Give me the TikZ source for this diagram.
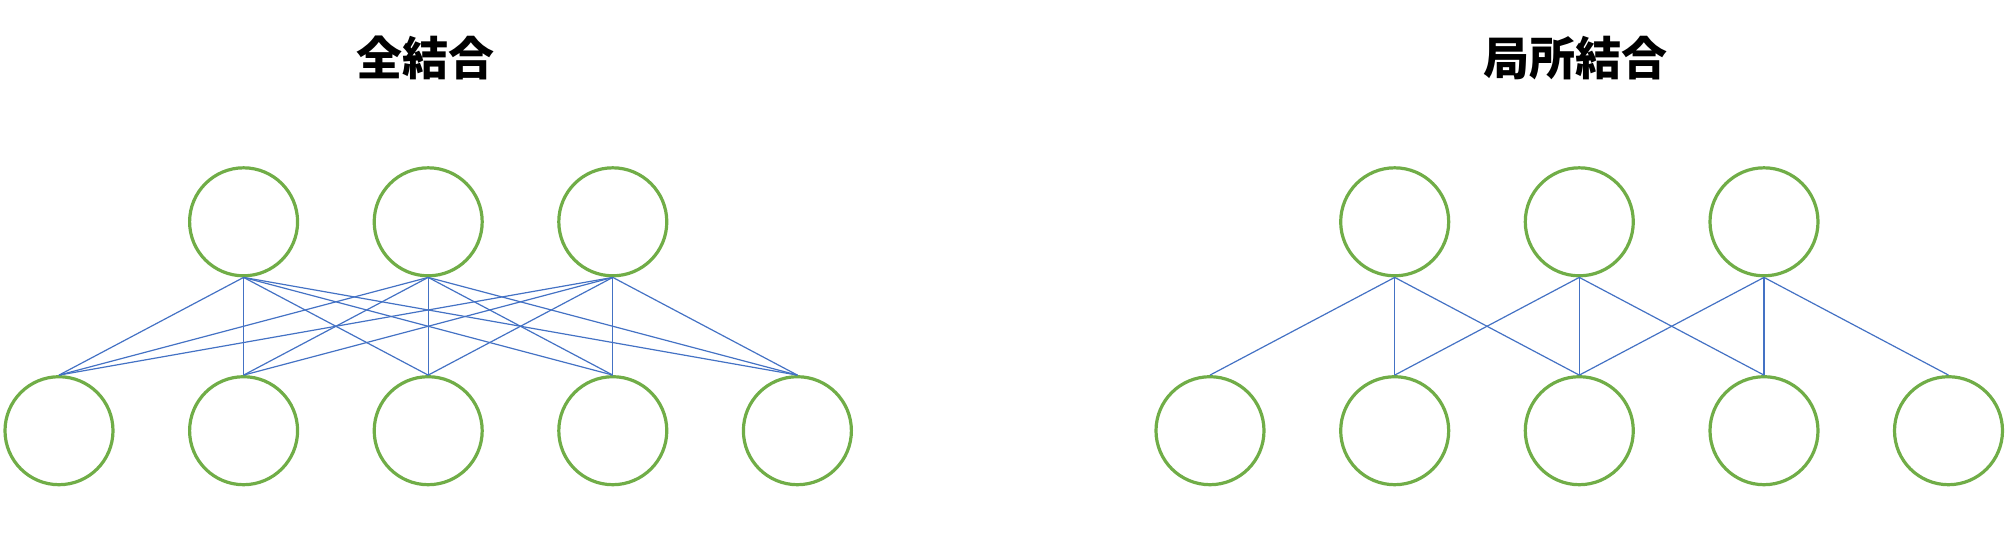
\documentclass[tikz,border=0pt]{standalone}
\usepackage{fontspec}
\newfontfamily\jpFont{Noto Sans CJK JP}
\usepackage{xcolor}
\definecolor{nnGreen}{RGB}{112, 173, 71}
\definecolor{nnBlue}{RGB}{68, 114, 196}
\usepackage{tikz}
\usetikzlibrary{
    shapes.geometric,
    positioning
}

\begin{document}
\begin{tikzpicture}[
    x=0.5pt, y=-0.5pt,
    neuronNode/.style={
        circle,
        draw=nnGreen, line width=1.6pt,
        fill=white,
        minimum size=54pt, inner sep=0pt
    },
    titleText/.style={
        font=\jpFont\bfseries\fontsize{23pt}{27pt}\selectfont,
        text=black, inner sep=0pt
    },
    linkLine/.style={
        draw=nnBlue, line width=0.6pt
    }
]
    \useasboundingbox (0, 0) rectangle (2010, 559);

    % Titles
    \node[titleText] (fcTitle) at (425.0, 57.7) {全結合};
    \node[titleText] (lcTitle) at (1575.5, 57.7) {局所結合};

    % Fully connected: upper layer
    \node[neuronNode] (fcTop1) at (243.6, 221.8) {};
    \node[neuronNode] (fcTop2) at (428.2, 221.8) {};
    \node[neuronNode] (fcTop3) at (612.8, 221.8) {};

    % Fully connected: lower layer
    \node[neuronNode] (fcBot1) at (59.0, 430.7) {};
    \node[neuronNode] (fcBot2) at (243.6, 430.7) {};
    \node[neuronNode] (fcBot3) at (428.2, 430.7) {};
    \node[neuronNode] (fcBot4) at (612.8, 430.7) {};
    \node[neuronNode] (fcBot5) at (797.4, 430.7) {};

    % Local connection: upper layer
    \node[neuronNode] (lcTop1) at (1394.7, 221.8) {};
    \node[neuronNode] (lcTop2) at (1579.3, 221.8) {};
    \node[neuronNode] (lcTop3) at (1764.0, 221.8) {};

    % Local connection: lower layer
    \node[neuronNode] (lcBot1) at (1210.0, 430.7) {};
    \node[neuronNode] (lcBot2) at (1394.7, 430.7) {};
    \node[neuronNode] (lcBot3) at (1579.3, 430.7) {};
    \node[neuronNode] (lcBot4) at (1764.0, 430.7) {};
    \node[neuronNode] (lcBot5) at (1948.5, 430.7) {};

    % Fully connected links
    \draw[linkLine] (fcTop1.south) -- (fcBot1.north);
    \draw[linkLine] (fcTop1.south) -- (fcBot2.north);
    \draw[linkLine] (fcTop1.south) -- (fcBot3.north);
    \draw[linkLine] (fcTop1.south) -- (fcBot4.north);
    \draw[linkLine] (fcTop1.south) -- (fcBot5.north);

    \draw[linkLine] (fcTop2.south) -- (fcBot1.north);
    \draw[linkLine] (fcTop2.south) -- (fcBot2.north);
    \draw[linkLine] (fcTop2.south) -- (fcBot3.north);
    \draw[linkLine] (fcTop2.south) -- (fcBot4.north);
    \draw[linkLine] (fcTop2.south) -- (fcBot5.north);

    \draw[linkLine] (fcTop3.south) -- (fcBot1.north);
    \draw[linkLine] (fcTop3.south) -- (fcBot2.north);
    \draw[linkLine] (fcTop3.south) -- (fcBot3.north);
    \draw[linkLine] (fcTop3.south) -- (fcBot4.north);
    \draw[linkLine] (fcTop3.south) -- (fcBot5.north);

    % Local links
    \draw[linkLine] (lcTop1.south) -- (lcBot1.north);
    \draw[linkLine] (lcTop1.south) -- (lcBot2.north);
    \draw[linkLine] (lcTop1.south) -- (lcBot3.north);

    \draw[linkLine] (lcTop2.south) -- (lcBot2.north);
    \draw[linkLine] (lcTop2.south) -- (lcBot3.north);
    \draw[linkLine] (lcTop2.south) -- (lcBot4.north);

    \draw[linkLine] (lcTop3.south) -- (lcBot3.north);
    \draw[linkLine] (lcTop3.south) -- (lcBot4.north);
    \draw[linkLine] (lcTop3.south) -- (lcBot5.north);

\end{tikzpicture}
\end{document}
